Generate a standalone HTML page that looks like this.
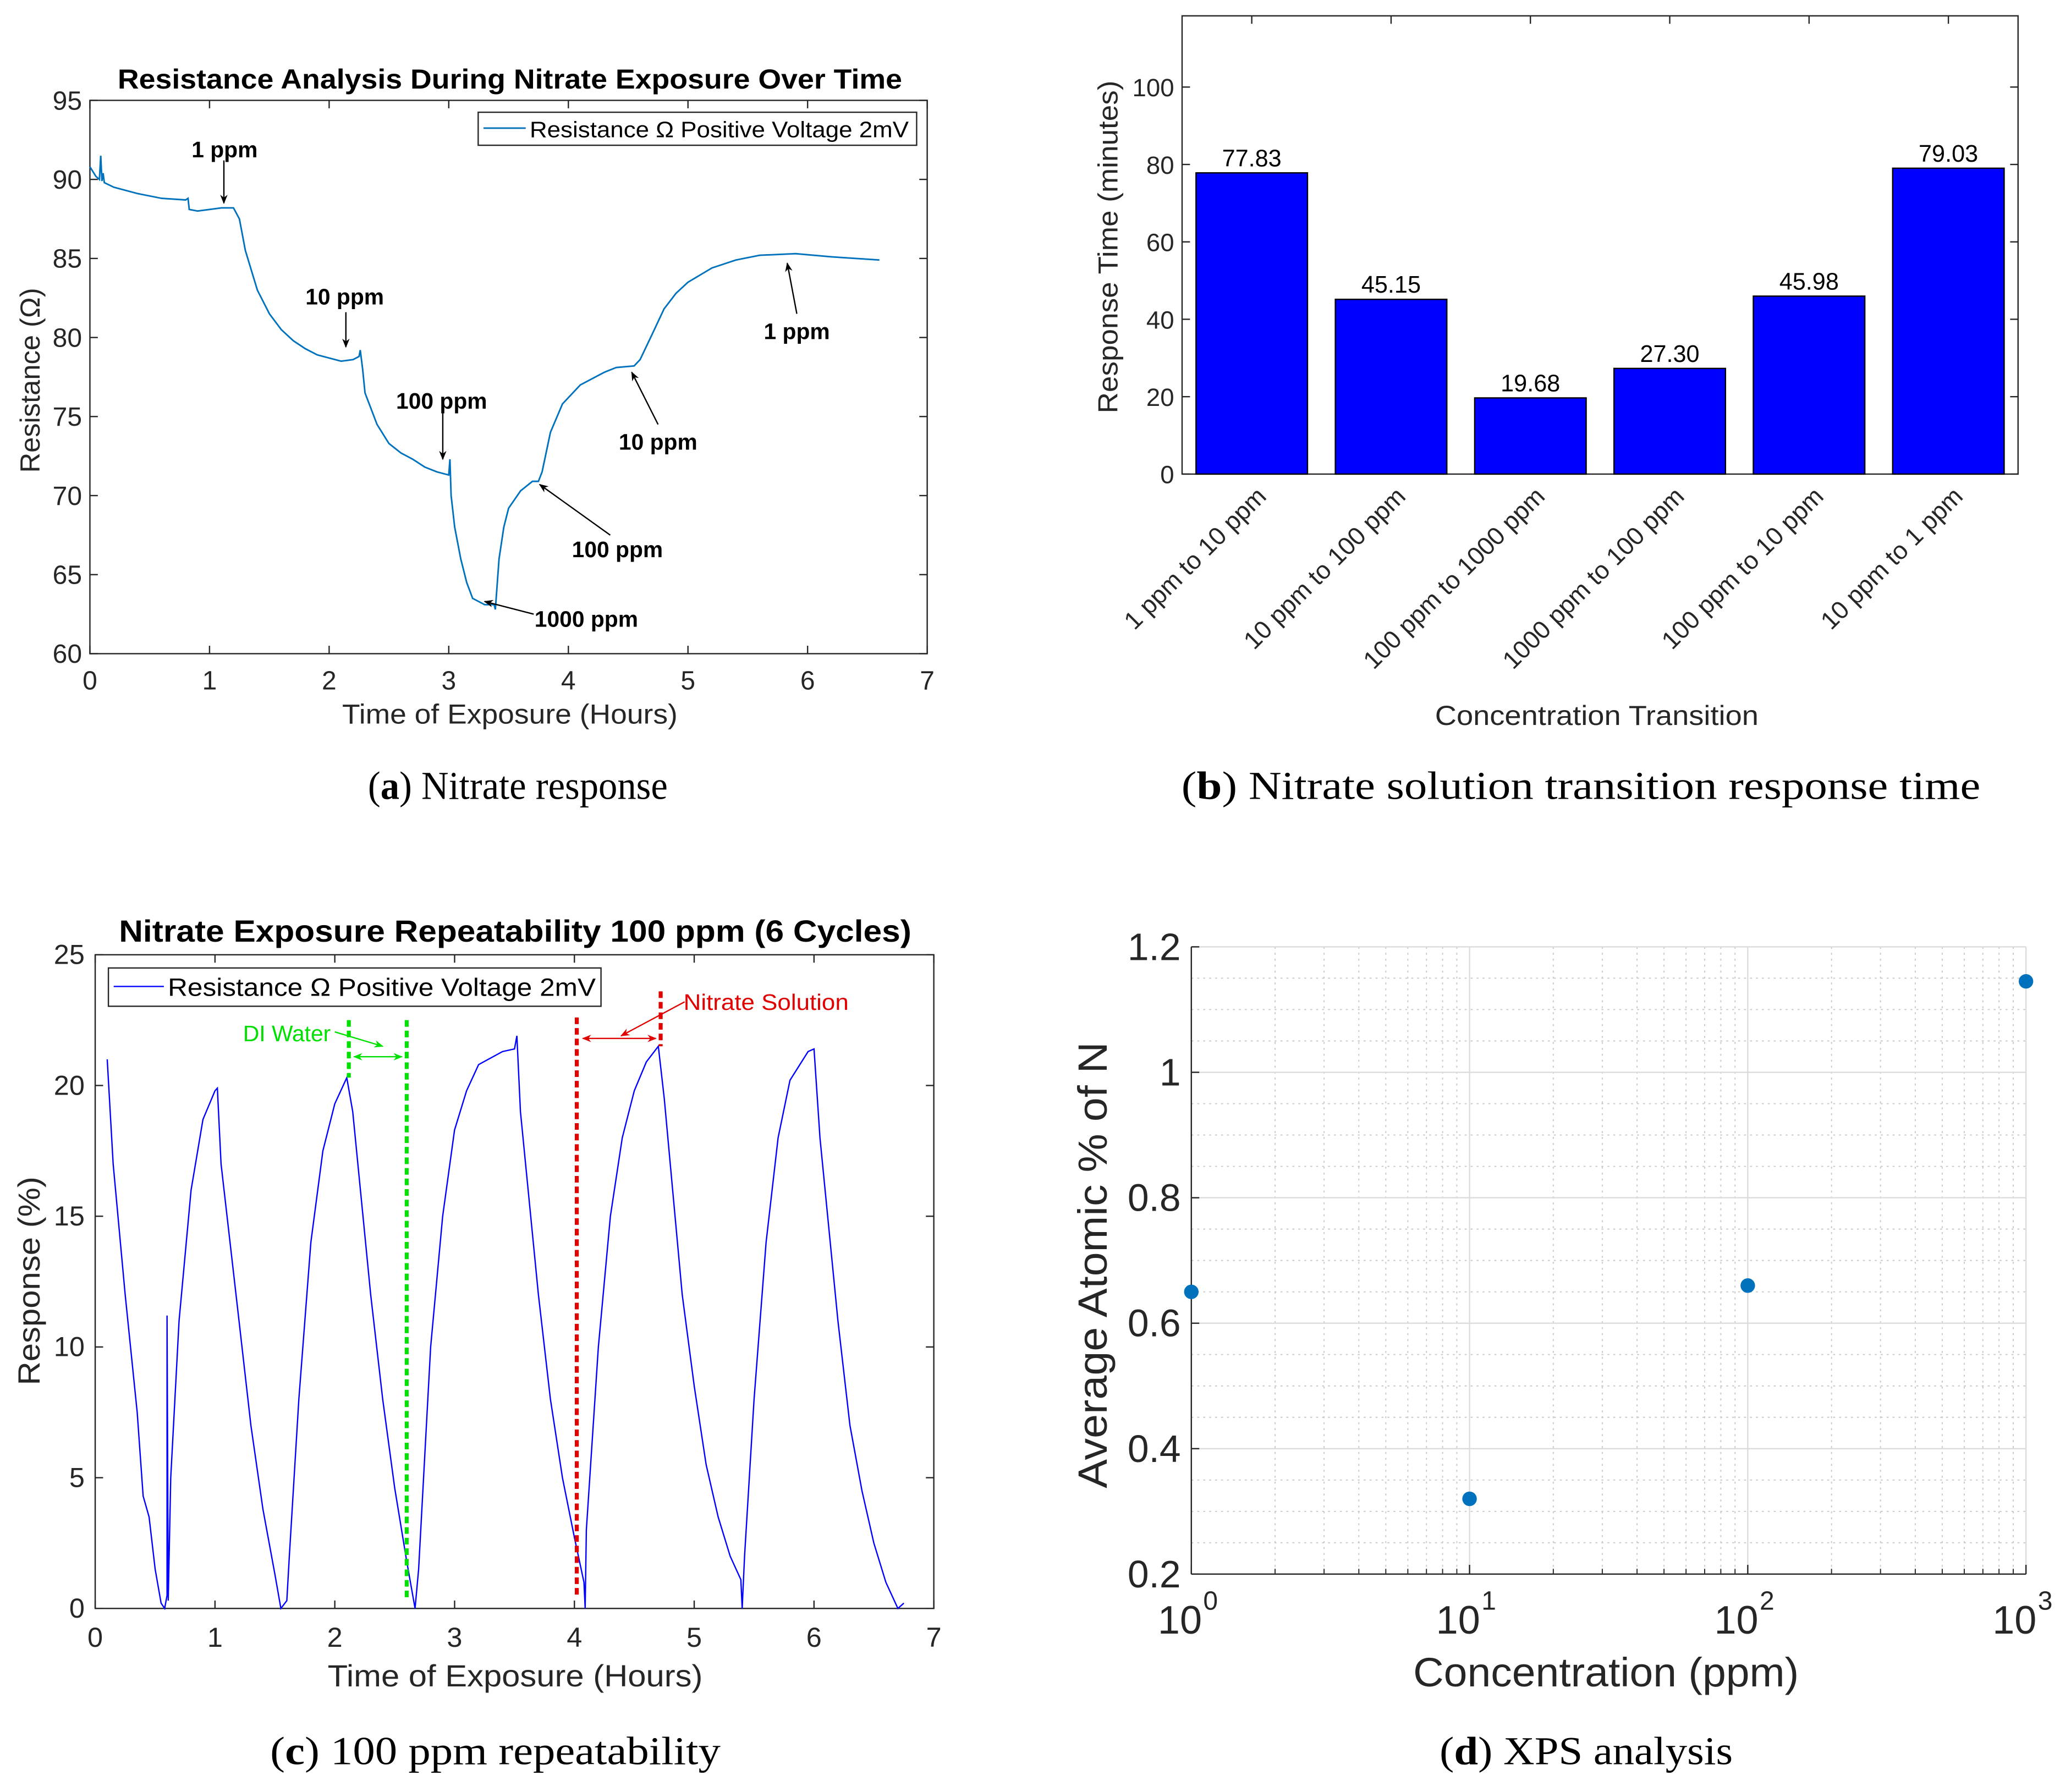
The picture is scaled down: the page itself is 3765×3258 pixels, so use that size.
<!DOCTYPE html>
<html><head><meta charset="utf-8"><style>
html,body{margin:0;padding:0;background:#fff}
svg{display:block}
text{font-family:"Liberation Sans",Arial,sans-serif}
.cap{font-family:"Liberation Serif",serif;font-size:30px}
</style></head><body>
<svg id="fig" width="3765" height="3258" viewBox="0 0 1568 1357" xmlns="http://www.w3.org/2000/svg">
<defs>
<marker id="ab" viewBox="0 0 10 10" refX="9" refY="5" markerWidth="7" markerHeight="7" orient="auto-start-reverse"><path d="M0,1 L10,5 L0,9 L3,5 z" fill="#000"/></marker>
<marker id="ag" viewBox="0 0 10 10" refX="9" refY="5" markerWidth="7" markerHeight="7" orient="auto-start-reverse"><path d="M0,1 L10,5 L0,9 L3,5 z" fill="#00e000"/></marker>
<marker id="ar" viewBox="0 0 10 10" refX="9" refY="5" markerWidth="7" markerHeight="7" orient="auto-start-reverse"><path d="M0,1 L10,5 L0,9 L3,5 z" fill="#e00000"/></marker>
</defs>
<g id="pa"></g>
<g id="pb"></g>
<g id="pc"></g>
<g id="pd"></g>
<text class="cap" x="392" y="605" text-anchor="middle" textLength="227" lengthAdjust="spacingAndGlyphs">(<tspan font-weight="bold">a</tspan>) Nitrate response</text>
<text class="cap" x="1197" y="605" text-anchor="middle" textLength="605" lengthAdjust="spacingAndGlyphs">(<tspan font-weight="bold">b</tspan>) Nitrate solution transition response time</text>
<text class="cap" x="375" y="1336" text-anchor="middle" textLength="341" lengthAdjust="spacingAndGlyphs">(<tspan font-weight="bold">c</tspan>) 100 ppm repeatability</text>
<text class="cap" x="1201" y="1336" text-anchor="middle" textLength="222" lengthAdjust="spacingAndGlyphs">(<tspan font-weight="bold">d</tspan>) XPS analysis</text>
</svg>
<script>
// Panel A data
const aTime=[0,0.05,0.08,0.09,0.1,0.11,0.12,0.2,0.4,0.6,0.8,0.82,0.83,0.9,1.0,1.1,1.2,1.25,1.3,1.4,1.5,1.6,1.7,1.8,1.9,2.0,2.1,2.2,2.25,2.26,2.28,2.3,2.4,2.5,2.6,2.7,2.8,2.9,3.0,3.01,3.02,3.05,3.1,3.15,3.2,3.3,3.38,3.39,3.42,3.46,3.5,3.6,3.7,3.75,3.78,3.85,3.95,4.1,4.3,4.4,4.55,4.6,4.7,4.8,4.9,5.0,5.2,5.4,5.6,5.9,6.2,6.6];
const aRes=[90.8,90.2,90.0,91.5,89.9,90.4,89.8,89.5,89.1,88.8,88.7,88.8,88.1,88.0,88.1,88.2,88.2,87.5,85.5,83.0,81.5,80.5,79.8,79.3,78.9,78.7,78.5,78.6,78.8,79.2,78.0,76.5,74.5,73.3,72.7,72.3,71.8,71.5,71.3,72.3,70.0,68.0,66.0,64.5,63.5,63.1,63.1,62.8,66.0,68.0,69.2,70.3,70.9,70.9,71.5,74.0,75.8,77.0,77.8,78.1,78.2,78.6,80.2,81.8,82.8,83.5,84.4,84.9,85.2,85.3,85.1,84.9];
const aXTicks=[0,1,2,3,4,5,6,7];
const aYTicks=[60,65,70,75,80,85,90,95];
// Panel B data
const bCats=["1 ppm to 10 ppm","10 ppm to 100 ppm","100 ppm to 1000 ppm","1000 ppm to 100 ppm","100 ppm to 10 ppm","10 ppm to 1 ppm"];
const bVals=[77.83,45.15,19.68,27.30,45.98,79.03];
const bYTicks=[0,20,40,60,80,100];
// Panel C data
const cTime=[0.1,0.15,0.25,0.35,0.4,0.45,0.5,0.55,0.58,0.6,0.6,0.61,0.63,0.7,0.8,0.9,1.0,1.02,1.05,1.2,1.3,1.4,1.5,1.55,1.6,1.62,1.7,1.8,1.9,2.0,2.1,2.15,2.3,2.4,2.5,2.6,2.67,2.7,2.8,2.9,3.0,3.1,3.2,3.4,3.5,3.52,3.55,3.7,3.8,3.9,4.0,4.08,4.09,4.1,4.2,4.3,4.4,4.5,4.6,4.7,4.75,4.9,5.0,5.1,5.2,5.3,5.39,5.4,5.42,5.5,5.6,5.7,5.8,5.95,6.0,6.05,6.2,6.3,6.4,6.5,6.6,6.7,6.75];
const cResp=[21,17,12,7.5,4.3,3.5,1.5,0.2,0,0.5,11.2,0.3,5,11,16,18.7,19.8,19.9,17,11,7,3.8,1.3,0,0.3,2,8,14,17.5,19.3,20.3,19,12,8,4.6,1.8,0,1.5,10,15,18.3,19.8,20.8,21.3,21.4,21.9,19,12,8,5,2.7,1,0,3,10,15,18,19.8,20.9,21.5,19.5,12,8.5,5.5,3.5,2.0,1.1,0,2,8,14,18,20.2,21.3,21.4,18,11,7,4.5,2.5,1,0,0.2];
const cXTicks=[0,1,2,3,4,5,6,7];
const cYTicks=[0,5,10,15,20,25];
// Panel D data
const dConc=[1,10,100,1000];
const dAtomic=[0.65,0.32,0.66,1.145];
const dYTicks=[0.2,0.4,0.6,0.8,1.0,1.2];
const dYLabels=["0.2","0.4","0.6","0.8","1","1.2"];
const dXTicks=[1,10,100,1000];
const dXExp=["0","1","2","3"];

const NS="http://www.w3.org/2000/svg";
function mk(parent,tag,attrs,txt){const e=document.createElementNS(NS,tag);for(const k in attrs)e.setAttribute(k,attrs[k]);if(txt!==undefined)e.textContent=txt;parent.appendChild(e);return e;}
function lin(d0,d1,r0,r1){return v=>r0+(v-d0)/(d1-d0)*(r1-r0);}
const LA='spacingAndGlyphs';

// ---------- Panel A ----------
(function(){
const g=document.getElementById('pa');
const L=68,R=702,T=76,B=495;
const x=lin(0,7,L,R), y=lin(60,95,B,T);
let e;
e=mk(g,'rect',{x:L,y:T,width:R-L,height:B-T,fill:'#fff',stroke:'#262626','stroke-width':1});


aXTicks.forEach(v=>{mk(g,'line',{x1:x(v),x2:x(v),y1:B,y2:B-6,stroke:'#262626'});mk(g,'line',{x1:x(v),x2:x(v),y1:T,y2:T+6,stroke:'#262626'});
e=mk(g,'text',{x:x(v),y:B+27,'text-anchor':'middle','font-size':20,fill:'#262626'},String(v));

});
aYTicks.forEach(v=>{mk(g,'line',{x1:L,x2:L+6,y1:y(v),y2:y(v),stroke:'#262626'});mk(g,'line',{x1:R,x2:R-6,y1:y(v),y2:y(v),stroke:'#262626'});
e=mk(g,'text',{x:L-6,y:y(v)+7,'text-anchor':'end','font-size':20,fill:'#262626'},String(v));

});
let d=aTime.map((t,i)=>(i?'L':'M')+x(t).toFixed(1)+','+y(aRes[i]).toFixed(1)).join('');
e=mk(g,'path',{d:d,fill:'none',stroke:'#0072bd','stroke-width':1.2});


e=mk(g,'text',{x:386,y:67,'text-anchor':'middle','font-size':21,'font-weight':'bold',textLength:594,lengthAdjust:LA},'Resistance Analysis During Nitrate Exposure Over Time');


e=mk(g,'text',{x:386,y:548,'text-anchor':'middle','font-size':21,fill:'#262626',textLength:254,lengthAdjust:LA},'Time of Exposure (Hours)');


e=mk(g,'text',{x:0,y:0,'text-anchor':'middle','font-size':21,fill:'#262626',transform:'translate(30,288) rotate(-90)',textLength:140,lengthAdjust:LA},'Resistance (Ω)');


const lg=mk(g,'g',{});


mk(lg,'rect',{x:362,y:85,width:332,height:25,fill:'#fff',stroke:'#262626','stroke-width':1});
mk(lg,'line',{x1:366,x2:398,y1:97,y2:97,stroke:'#0072bd','stroke-width':1.2});
mk(lg,'text',{x:401,y:104,'font-size':17,textLength:287,lengthAdjust:LA},'Resistance Ω Positive Voltage 2mV');
const ann=[["1 ppm",1.126,91.9,1.12,91.2,1.12,88.5],["10 ppm",2.13,82.6,2.14,81.6,2.14,79.4],["100 ppm",2.94,76.0,2.95,75.5,2.95,72.3],["1000 ppm",4.15,62.2,3.71,62.5,3.30,63.3],["100 ppm",4.41,66.6,4.35,67.5,3.76,70.7],["10 ppm",4.75,73.4,4.75,74.5,4.53,77.8],["1 ppm",5.91,80.4,5.91,81.5,5.83,84.7]];
ann.forEach(a=>{e=mk(g,'text',{x:x(a[1]),y:y(a[2])+6,'text-anchor':'middle','font-size':17,'font-weight':'bold'},a[0]);


mk(g,'line',{x1:x(a[3]),y1:y(a[4]),x2:x(a[5]),y2:y(a[6]),stroke:'#000','stroke-width':1,'marker-end':'url(#ab)'});});
})();

// ---------- Panel B ----------
(function(){
const g=document.getElementById('pb');
const L=895,R=1528,T=12,B=359;
const y=lin(0,118.4,B,T);
const step=(R-L)/bCats.length, bw=step*0.8;
let e;
e=mk(g,'rect',{x:L,y:T,width:R-L,height:B-T,fill:'#fff',stroke:'#262626','stroke-width':1});


bYTicks.forEach(v=>{mk(g,'line',{x1:L,x2:L+6,y1:y(v),y2:y(v),stroke:'#262626'});mk(g,'line',{x1:R,x2:R-6,y1:y(v),y2:y(v),stroke:'#262626'});
e=mk(g,'text',{x:L-6,y:y(v)+7,'text-anchor':'end','font-size':19,fill:'#262626'},String(v));

});
bCats.forEach((c,i)=>{const cx=L+step*(i+0.5);
mk(g,'line',{x1:cx,x2:cx,y1:T,y2:T+6,stroke:'#262626'});
e=mk(g,'rect',{x:cx-bw/2,y:y(bVals[i]),width:bw,height:B-y(bVals[i]),fill:'#0000ff',stroke:'#000','stroke-width':1});


e=mk(g,'text',{x:cx,y:y(bVals[i])-5,'text-anchor':'middle','font-size':18},bVals[i].toFixed(2));


e=mk(g,'text',{x:0,y:0,'text-anchor':'end','font-size':19,fill:'#262626',transform:'translate('+(cx+12)+','+(B+18)+') rotate(-45)'},c);

});
e=mk(g,'text',{x:1209,y:549,'text-anchor':'middle','font-size':21,fill:'#262626',textLength:245,lengthAdjust:LA},'Concentration Transition');


e=mk(g,'text',{x:0,y:0,'text-anchor':'middle','font-size':21,fill:'#262626',transform:'translate(846,187) rotate(-90)',textLength:252,lengthAdjust:LA},'Response Time (minutes)');


})();

// ---------- Panel C ----------
(function(){
const g=document.getElementById('pc');
const L=72,R=707,T=723,B=1218;
const x=lin(0,7,L,R), y=lin(0,25,B,T);
let e;
e=mk(g,'rect',{x:L,y:T,width:R-L,height:B-T,fill:'#fff',stroke:'#262626','stroke-width':1});


cXTicks.forEach(v=>{mk(g,'line',{x1:x(v),x2:x(v),y1:B,y2:B-6,stroke:'#262626'});mk(g,'line',{x1:x(v),x2:x(v),y1:T,y2:T+6,stroke:'#262626'});
e=mk(g,'text',{x:x(v),y:B+29,'text-anchor':'middle','font-size':21,fill:'#262626'},String(v));

});
cYTicks.forEach(v=>{mk(g,'line',{x1:L,x2:L+6,y1:y(v),y2:y(v),stroke:'#262626'});mk(g,'line',{x1:R,x2:R-6,y1:y(v),y2:y(v),stroke:'#262626'});
e=mk(g,'text',{x:L-8,y:y(v)+7,'text-anchor':'end','font-size':21,fill:'#262626'},String(v));

});
let d=cTime.map((t,i)=>(i?'L':'M')+x(t).toFixed(1)+','+y(cResp[i]).toFixed(1)).join('');
e=mk(g,'path',{d:d,fill:'none',stroke:'#0000ff','stroke-width':1});


mk(g,'line',{x1:x(2.117),x2:x(2.117),y1:y(22.5),y2:y(20.3),stroke:'#00e000','stroke-width':3,'stroke-dasharray':'5,3'});
mk(g,'line',{x1:x(2.60),x2:x(2.60),y1:y(22.5),y2:y(0.3),stroke:'#00e000','stroke-width':3,'stroke-dasharray':'5,3'});
mk(g,'line',{x1:x(2.16),x2:x(2.56),y1:y(21.1),y2:y(21.1),stroke:'#00e000','stroke-width':1,'marker-start':'url(#ag)','marker-end':'url(#ag)'});
mk(g,'line',{x1:x(2.0),x2:x(2.4),y1:y(22.05),y2:y(21.5),stroke:'#00e000','stroke-width':1,'marker-end':'url(#ag)'});
e=mk(g,'text',{x:x(1.6),y:y(22.0)+6,'text-anchor':'middle','font-size':17,fill:'#00e000'},'DI Water');


mk(g,'line',{x1:x(4.02),x2:x(4.02),y1:y(22.6),y2:y(0.4),stroke:'#e00000','stroke-width':3,'stroke-dasharray':'5,3'});
mk(g,'line',{x1:x(4.72),x2:x(4.72),y1:y(23.6),y2:y(21.5),stroke:'#e00000','stroke-width':3,'stroke-dasharray':'5,3'});
mk(g,'line',{x1:x(4.07),x2:x(4.68),y1:y(21.8),y2:y(21.8),stroke:'#e00000','stroke-width':1,'marker-start':'url(#ar)','marker-end':'url(#ar)'});
mk(g,'line',{x1:x(4.92),x2:x(4.39),y1:y(23.2),y2:y(21.9),stroke:'#e00000','stroke-width':1,'marker-end':'url(#ar)'});
e=mk(g,'text',{x:x(5.6),y:y(23.2)+6,'text-anchor':'middle','font-size':17,fill:'#e00000',textLength:125,lengthAdjust:LA},'Nitrate Solution');


e=mk(g,'text',{x:390,y:713,'text-anchor':'middle','font-size':23,'font-weight':'bold',textLength:600,lengthAdjust:LA},'Nitrate Exposure Repeatability 100 ppm (6 Cycles)');


e=mk(g,'text',{x:390,y:1277,'text-anchor':'middle','font-size':23,fill:'#262626',textLength:284,lengthAdjust:LA},'Time of Exposure (Hours)');


e=mk(g,'text',{x:0,y:0,'text-anchor':'middle','font-size':23,fill:'#262626',transform:'translate(30,970) rotate(-90)',textLength:158,lengthAdjust:LA},'Response (%)');


const lg=mk(g,'g',{});


mk(lg,'rect',{x:82,y:733,width:373,height:29,fill:'#fff',stroke:'#262626','stroke-width':1});
mk(lg,'line',{x1:86,x2:124,y1:747,y2:747,stroke:'#0000ff','stroke-width':1});
mk(lg,'text',{x:127,y:754,'font-size':19,textLength:324,lengthAdjust:LA},'Resistance Ω Positive Voltage 2mV');
})();

// ---------- Panel D ----------
(function(){
const g=document.getElementById('pd');
const L=902,R=1534,T=717,B=1192;
const x=v=>L+Math.log10(v)/3*(R-L), y=lin(0.2,1.2,B,T);
let e;
e=mk(g,'rect',{x:L,y:T,width:R-L,height:B-T,fill:'#fff',stroke:'none'});


for(let p=0;p<3;p++)for(let m=2;m<=9;m++){const xv=x(m*Math.pow(10,p));mk(g,'line',{x1:xv,x2:xv,y1:T,y2:B,stroke:'#c8c8c8','stroke-width':0.8,'stroke-dasharray':'1.5,3'});mk(g,'line',{x1:xv,x2:xv,y1:B,y2:B-4,stroke:'#262626','stroke-width':0.8});}
for(let k=1;k<20;k++){if(k%4===0)continue;const v=0.2+k*0.05;mk(g,'line',{x1:L,x2:R,y1:y(v),y2:y(v),stroke:'#c8c8c8','stroke-width':0.8,'stroke-dasharray':'1.5,3'});}
dYTicks.forEach(v=>mk(g,'line',{x1:L,x2:R,y1:y(v),y2:y(v),stroke:'#dcdcdc','stroke-width':1}));
dXTicks.forEach(v=>mk(g,'line',{x1:x(v),x2:x(v),y1:T,y2:B,stroke:'#dcdcdc','stroke-width':1}));
mk(g,'line',{x1:L,x2:L,y1:T,y2:B,stroke:'#262626','stroke-width':1});
mk(g,'line',{x1:L,x2:R,y1:B,y2:B,stroke:'#262626','stroke-width':1});
dYTicks.forEach((v,i)=>{mk(g,'line',{x1:L,x2:L+6,y1:y(v),y2:y(v),stroke:'#262626'});
e=mk(g,'text',{x:L-8,y:y(v)+10,'text-anchor':'end','font-size':29,fill:'#262626'},dYLabels[i]);

});
dXTicks.forEach((v,i)=>{mk(g,'line',{x1:x(v),x2:x(v),y1:B,y2:B-7,stroke:'#262626'});
e=mk(g,'text',{x:x(v)+8,y:B+45,'text-anchor':'end','font-size':30,fill:'#262626'},'10');


mk(g,'text',{x:x(v)+9,y:B+27,'font-size':20,fill:'#262626'},dXExp[i]);});
dConc.forEach((c,i)=>{e=mk(g,'circle',{cx:x(c),cy:y(dAtomic[i]),r:5.5,fill:'#0072bd'});

});
e=mk(g,'text',{x:1216,y:1277,'text-anchor':'middle','font-size':31,fill:'#262626',textLength:292,lengthAdjust:LA},'Concentration (ppm)');


e=mk(g,'text',{x:0,y:0,'text-anchor':'middle','font-size':31,fill:'#262626',transform:'translate(838,958) rotate(-90)',textLength:338,lengthAdjust:LA},'Average Atomic % of N');


})();
</script>
</body></html>
